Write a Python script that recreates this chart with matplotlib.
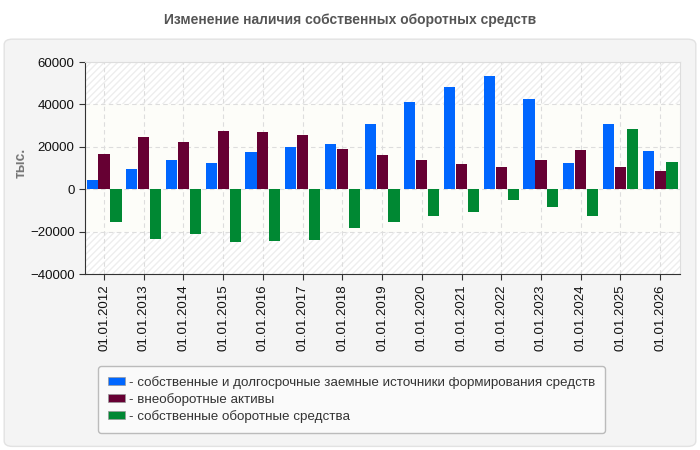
import numpy as np
import matplotlib.pyplot as plt
from matplotlib.patches import FancyBboxPatch, Patch

plt.rcParams['font.family'] = ['Liberation Sans', 'DejaVu Sans']

dates = ['01.01.2012', '01.01.2013', '01.01.2014', '01.01.2015', '01.01.2016',
         '01.01.2017', '01.01.2018', '01.01.2019', '01.01.2020', '01.01.2021',
         '01.01.2022', '01.01.2023', '01.01.2024', '01.01.2025', '01.01.2026']
sources = [4550, 9730, 13970, 12560, 17740, 20100, 21510, 30930, 41290, 48360,
           53540, 42700, 12560, 30930, 18210]
noncurrent = [16800, 24800, 22450, 27630, 27160, 25750, 19150, 16330, 13970, 12090,
              10680, 13970, 18680, 10680, 8790]
working = [-15230, -23240, -20880, -24650, -24180, -23700, -18060, -15230, -12400, -10520,
           -4870, -8160, -12400, 28570, 13030]
names = ['- собственные и долгосрочные заемные источники формирования средств',
         '- внеоборотные активы',
         '- собственные оборотные средства']
colors = ['#0066ff', '#660033', '#008833']

fig = plt.figure(figsize=(7, 4.5), dpi=100)
fig.patch.set_facecolor('white')

# background panel
panel = FancyBboxPatch((0.006, 0.008), 0.988, 0.905, boxstyle='round,pad=0,rounding_size=0.012',
                       transform=fig.transFigure, facecolor='#f4f4f4', edgecolor='#e2e2e2',
                       linewidth=1, zorder=-10)
fig.patches.append(panel)

fig.text(0.5, 0.955, 'Изменение наличия собственных оборотных средств', ha='center', va='center',
         fontsize=10, fontweight='bold', color='#555555')

ax = fig.add_axes([0.1214, 0.391, 0.85, 0.471])
ax.set_facecolor('white')
x = np.arange(len(dates))
w = 0.28
step = 0.30
ax.axhspan(-20000, 40000, facecolor='#fdfdf9', edgecolor='none', zorder=0)
ax.axhspan(40000, 60000, facecolor='white', edgecolor='#eeeeee', hatch='/////', linewidth=0, zorder=0)
ax.axhspan(-40000, -20000, facecolor='white', edgecolor='#eeeeee', hatch='/////', linewidth=0, zorder=0)

for i, vals in enumerate([sources, noncurrent, working]):
    ax.bar(x + (i - 1) * step, vals, width=w, color=colors[i], zorder=3)

ax.set_xlim(-0.48, len(dates) - 0.5)
ax.set_ylim(-40000, 60000)
ax.set_yticks(np.arange(-40000, 60001, 20000))
ax.set_xticks(x)
ax.set_xticklabels(dates, rotation=90, fontsize=9.5, color='#111111')
ax.tick_params(axis='y', labelsize=9.5, labelcolor='#111111', length=4, color='#333333')
ax.tick_params(axis='x', length=4, color='#333333')
ax.grid(True, linestyle=(0, (4, 3)), color='#dddddd', linewidth=0.8, zorder=1)
ax.set_axisbelow(True)
for s in ['top', 'right']:
    ax.spines[s].set_color('#dddddd')
for s in ['left', 'bottom']:
    ax.spines[s].set_color('#333333')
ax.set_ylabel('тыс.', fontsize=10, color='#777777', fontweight='bold')
ax.yaxis.set_label_coords(-0.097, 0.526)

handles = [Patch(facecolor=c, edgecolor='#999999', linewidth=0.5) for c in colors]
leg = fig.legend(handles, names, loc='upper left', bbox_to_anchor=(0.14, 0.187),
                 bbox_transform=fig.transFigure, fontsize=9.6, frameon=True, fancybox=True,
                 handlelength=1.3, handleheight=0.6, handletextpad=0.25, labelspacing=0.3,
                 borderpad=0.75, borderaxespad=0)
leg.get_frame().set_facecolor('#fafafa')
leg.get_frame().set_edgecolor('#bbbbbb')
leg.get_frame().set_alpha(1)
for t in leg.get_texts():
    t.set_color('#333333')

fig.savefig('out.png', dpi=100)
